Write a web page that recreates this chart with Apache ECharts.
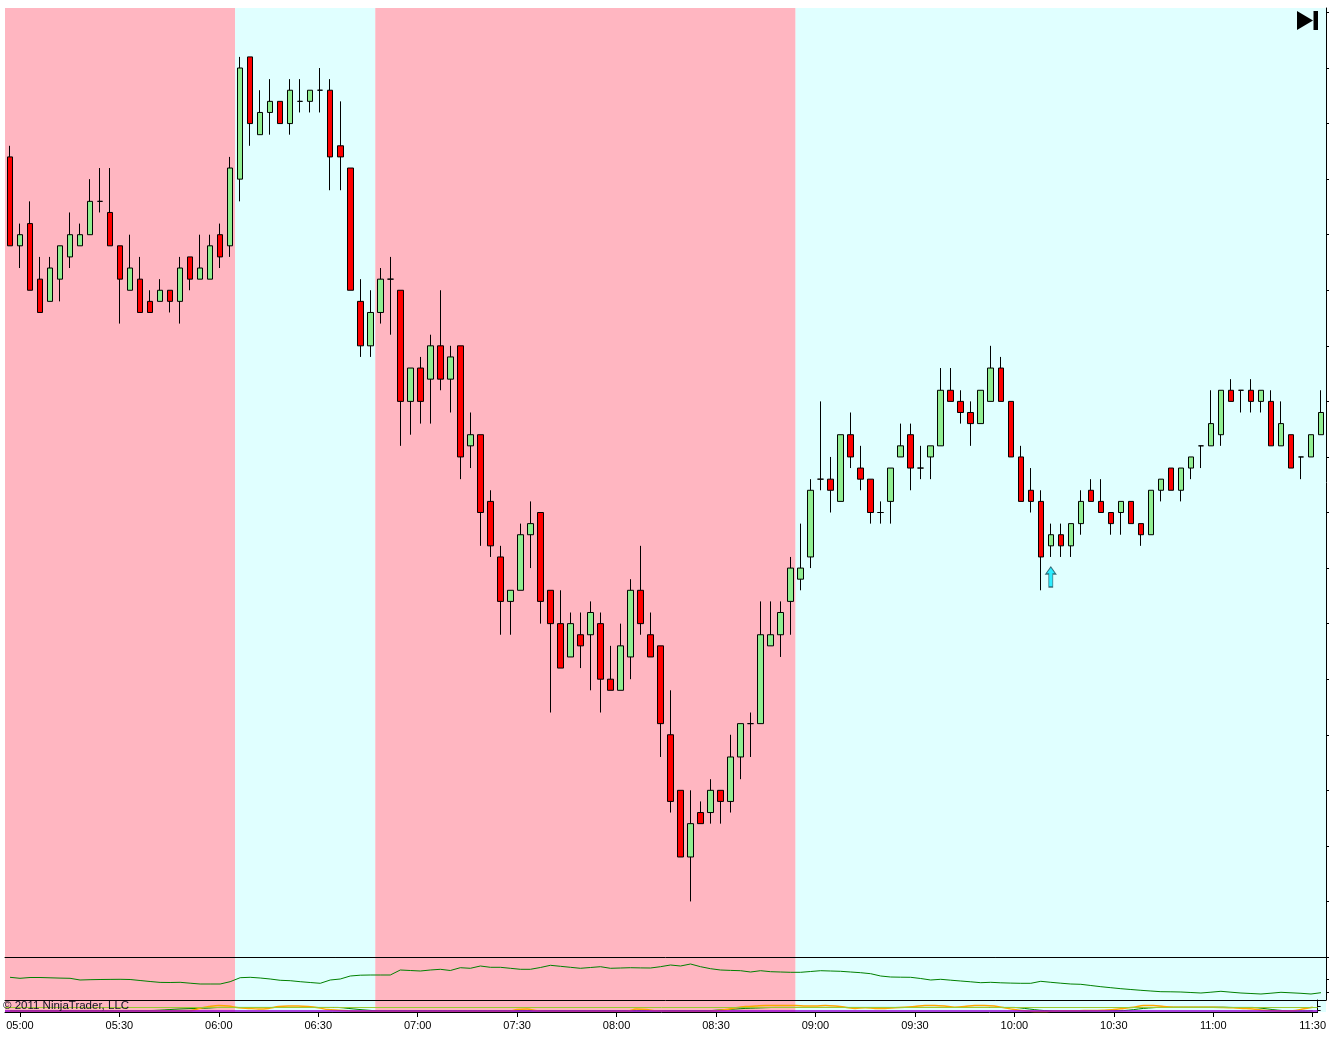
<!DOCTYPE html>
<html>
<head>
<meta charset="utf-8">
<script src="https://cdn.jsdelivr.net/npm/echarts@6/dist/echarts.min.js"></script>
<style>
html,body{margin:0;padding:0;background:#ffffff;}
#chart{width:1329px;height:1039px;}
</style>
</head>
<body>
<div id="chart"></div>
<script>
// ---------- DATA ----------
// 3-minute bars, 04:57 .. 11:30
const firstBarTime = '04:57';
const barMinutes = 3;
const barCount = 132;
const times = [];
(function () {
  const [h0, m0] = firstBarTime.split(':').map(Number);
  for (let i = 0; i < barCount; i++) {
    const t = h0 * 60 + m0 + i * barMinutes;
    const hh = String(Math.floor(t / 60)).padStart(2, '0');
    const mm = String(t % 60).padStart(2, '0');
    times.push(hh + ':' + mm);
  }
})();

const opens = [
1316.75,1314.75,1315.25,1314,1313.5,1314,1314.5,1314.75,1315,1315.75,
1315.5,1314.75,1313.75,1314,1313.5,1313.5,1313.75,1313.5,1314.5,1314,
1314,1315,1314.75,1316.25,1319,1317.25,1317.75,1318,1317.5,1318,
1318,1318.25,1318.25,1317,1316.5,1313.5,1312.5,1313.25,1314,1313.75,
1311.25,1312,1311.75,1312.5,1311.75,1312.5,1310.25,1310.5,1309,1307.75,
1306.75,1307,1308.25,1308.75,1307,1306.25,1305.5,1306,1306,1306.25,
1305,1304.75,1305.5,1307,1306,1305.75,1303.75,1302.5,1301,1302,
1302,1302.5,1302.25,1303.25,1304,1304,1305.75,1306,1306.75,1307.25,
1307.75,1309.5,1309.5,1309,1310.5,1309.75,1309.5,1308.75,1309,1310,
1310.5,1309.75,1310,1310.25,1311.5,1311.25,1311,1310.75,1311.25,1312,
1311.25,1310,1309.25,1309,1308,1308.25,1308,1308.5,1309.25,1309,
1308.75,1308.75,1309,1308.5,1308.25,1309.25,1309.75,1309.25,1309.75,1310.25,
1310.25,1310.5,1311.5,1311.5,1311.5,1311.25,1311.25,1310.25,1310.5,1310,
1310,1310.5
];
const highs = [
1317,1315.25,1315.75,1314.5,1314.5,1314.75,1315.5,1315.25,1316.25,1316.5,
1316.5,1314.75,1315,1314.5,1313.75,1314,1313.75,1314.5,1314.5,1315,
1315,1315.25,1316.75,1319,1319,1318.25,1318.5,1318,1318.5,1318.5,
1318.25,1318.75,1318.5,1318,1316.5,1314,1313.75,1314.25,1314.5,1313.75,
1312,1312.25,1312.75,1313.75,1312.5,1312.5,1311,1310.5,1309.25,1308,
1307,1308.5,1309,1308.75,1307,1307,1306.5,1306.5,1306.75,1306.5,
1305.75,1306.25,1307.25,1308,1306.5,1305.75,1304.75,1302.5,1302.5,1302.25,
1302.75,1302.5,1303.75,1304,1304.25,1306.75,1306.75,1306.75,1307.75,1308.5,
1309.5,1311.25,1310,1310.5,1311,1310.25,1309.5,1309,1309.75,1310.75,
1310.75,1310.25,1310.25,1312,1312,1311.5,1311.25,1311.5,1312.5,1312.25,
1311.25,1310.25,1309.75,1309.25,1308.5,1308.5,1308.5,1309.25,1309.5,1309.5,
1308.75,1309,1309,1308.5,1309.25,1309.5,1309.75,1309.75,1310,1310.25,
1311.5,1311.5,1311.75,1311.5,1311.75,1311.5,1311.5,1311.25,1310.5,1310,
1310.5,1311.5
];
const lows = [
1314.75,1314.25,1313.75,1313.25,1313.5,1313.5,1314.25,1314.75,1315,1315.5,
1314.75,1313,1313.75,1313.25,1313.25,1313.5,1313.25,1313,1313.75,1314,
1314,1314.25,1314.5,1315.75,1317,1317.25,1317.25,1317.5,1317.25,1317.75,
1317.75,1317.75,1316,1316,1313.75,1312.25,1312.25,1313,1312.75,1310.25,
1310.5,1310.75,1310.75,1311.5,1311,1309.5,1309.75,1308,1307.75,1306,
1306,1307,1307.5,1306.25,1304.25,1305.25,1305.5,1305.25,1304.75,1304.25,
1304.75,1304.75,1305,1306,1305.5,1303.25,1302,1301,1300,1301.75,
1301.75,1301.75,1302,1302.75,1303.25,1304,1305.75,1305.5,1306,1307,
1307.5,1309.25,1308.75,1309,1309.75,1309.25,1308.5,1308.5,1308.5,1310,
1309.25,1309.5,1309.5,1310.25,1311.25,1310.75,1310.25,1310.75,1311.25,1311.25,
1310,1309,1308.75,1307,1307.75,1307.75,1307.75,1308.25,1309,1308.75,
1308.25,1308.25,1308.5,1308,1308.25,1309,1309.25,1309,1309.5,1309.75,
1310.25,1310.25,1311.25,1311,1311,1311,1310.25,1310.25,1309.75,1309.5,
1310,1310.5
];
const closes = [
1314.75,1315,1313.75,1313.25,1314.25,1314.75,1315,1315,1315.75,1315.75,
1314.75,1314,1314.25,1313.25,1313.25,1313.75,1313.5,1314.25,1314,1314.25,
1314.75,1314.5,1316.5,1318.75,1317.5,1317.75,1318,1317.5,1318.25,1318,
1318.25,1318.25,1316.75,1316.75,1313.75,1312.5,1313.25,1314,1314,1311.25,
1312,1311.25,1312.5,1311.75,1312.25,1310,1310.5,1308.75,1308,1306.75,
1307,1308.25,1308.5,1306.75,1306.25,1305.25,1306.25,1305.75,1306.5,1305,
1304.75,1305.75,1307,1306.25,1305.5,1304,1302.25,1301,1301.75,1301.75,
1302.5,1302.25,1303.25,1304,1304,1306,1306,1306.5,1307.5,1307.5,
1309.25,1309.5,1309.25,1310.5,1310,1309.5,1308.75,1308.75,1309.75,1310.25,
1309.75,1309.75,1310.25,1311.5,1311.25,1311,1310.75,1311.5,1312,1311.25,
1310,1309,1309,1307.75,1308.25,1308,1308.5,1309,1309,1308.75,
1308.5,1309,1308.5,1308.25,1309.25,1309.5,1309.25,1309.75,1310,1310.25,
1310.75,1311.5,1311.25,1311.5,1311.25,1311.5,1310.25,1310.75,1309.75,1310,
1310.5,1311
];

// upper indicator panel (single green line)
const trendIndicator = [
22.7,21.7,22.5,22.5,22.2,21.9,21.7,20.0,20.3,20.5,
20.6,20.7,20.5,19.5,18.5,17.6,17.5,17.7,16.8,16.0,
16.0,16.0,18.3,22.3,22.7,22.0,21.0,19.7,19.3,18.3,
17.5,16.7,20.0,21.0,24.0,24.8,25.0,25.0,25.0,30.0,
29.5,29.0,30.0,30.7,29.5,32.3,31.7,34.0,32.7,32.7,
31.7,30.7,30.7,32.5,34.7,33.7,32.7,31.7,32.5,33.3,
31.7,32.0,32.3,32.1,32.0,33.3,35.0,34.0,36.0,33.3,
31.3,30.0,29.6,29.3,28.0,29.3,28.3,28.0,27.7,27.7,
28.5,29.3,29.0,28.7,28.0,27.3,26.3,24.0,23.0,22.8,
22.7,21.5,20.0,20.7,19.8,19.0,18.2,17.3,17.7,17.2,
16.9,16.7,16.7,18.7,17.7,16.8,16.0,15.7,14.5,13.3,
12.3,11.3,10.5,9.7,9.0,8.3,8.2,8.0,7.5,7.0,
7.8,8.7,7.8,7.0,6.5,6.0,6.8,7.7,7.2,6.7,
6.0,7.3
];

// lower (thin) oscillator panel
const oscGreen = [
0.12,0.12,0.12,0.12,0.12,0.12,0.12,0.12,0.12,0.12,0.12,0.12,0.12,0.12,0.12,
0.15,0.2,0.25,0.28,0.3,0.33,
0.38,0.38,0.38,0.38,0.38,0.38,0.38,0.38,0.38,0.38,0.38,0.38,0.38,
0.3,0.22,0.15,0.1,
0.1,0.1,0.1,0.1,0.1,0.1,0.1,0.1,0.1,0.1,0.1,0.1,0.1,0.1,0.1,0.1,0.1,0.1,0.1,0.1,0.1,0.1,0.1,0.1,0.1,0.1,0.1,0.1,0.1,0.1,0.1,0.1,0.1,
0.15,0.2,0.25,0.3,0.33,0.36,0.38,0.38,
0.38,0.38,0.38,0.38,0.38,0.38,0.38,0.38,0.38,0.38,0.38,0.38,0.38,0.38,0.38,0.38,0.38,0.38,0.38,0.38,0.38,0.38,0.38,
0.3,0.2,0.12,0.1,0.08,0.08,0.08,0.1,0.1,0.1,0.12,
0.2,0.3,0.36,0.4,0.4,0.4,0.4,0.4,0.4,0.4,0.38,0.38,0.38,0.3,
0.2,0.12,0.08,0.08,0.1
];
const oscOrange = [
0.08,0.08,0.08,0.08,0.08,0.08,0.08,0.08,0.08,0.08,0.08,0.08,0.08,0.08,0.08,0.08,0.08,0.08,0.08,
0.3,0.45,0.55,0.5,0.35,
0.3,0.25,0.3,
0.45,0.5,0.5,0.45,0.35,
0.2,0.15,0.1,0.06,0.06,0.06,0.06,0.06,0.06,0.06,0.06,0.06,0.06,0.06,0.06,0.06,0.06,0.06,0.06,
0.2,0.25,
0.1,0.06,0.06,0.06,0.06,0.06,0.06,0.06,0.06,0.06,
0.25,0.2,
0.1,0.06,0.06,0.06,0.06,0.06,0.1,0.2,0.35,
0.45,0.5,0.55,0.55,0.55,0.55,0.5,0.5,0.55,0.5,0.4,
0.3,0.35,0.3,0.3,0.35,0.4,0.45,
0.55,0.55,0.5,
0.4,0.45,0.55,0.55,0.5,
0.35,0.2,0.1,0.05,0.05,
0.08,0.1,0.1,0.12,0.12,0.15,0.2,0.3,0.4,
0.55,0.55,0.45,
0.4,0.4,0.4,0.4,0.4,0.38,0.35,0.3,0.25,
0.15,0.1,0.08,0.1,0.25,0.4
];
const oscUpperLevel = 0.38;
const oscLowerLevel = 0.12;

// background regimes (bar index ranges)
const regionStart = [0, 23, 37, 79];
const regionEnd   = [22, 36, 78, 131];
const regionType  = ['short', 'long', 'short', 'long'];

// signal arrow bars
const signalBars = [104];

// axis tick levels (no labels shown)
const priceTicks = [1298.75,1300,1301.25,1302.5,1303.75,1305,1306.25,1307.5,1308.75,1310,1311.25,1312.5,1313.75,1315,1316.25,1317.5,1318.75,1320];
const trendTicks = [8, 21];
const oscTicks = [0.44, 0.11];

// ---------- CHART ----------
const FONT = '"Liberation Sans", Arial, sans-serif';
const regionColors = { short: '#FFB6C1', long: '#E0FFFF' };
const chart = echarts.init(document.getElementById('chart'), null, { renderer: 'canvas' });

const candleData = opens.map((o, i) => [o, closes[i], lows[i], highs[i]]);
const isLabelTime = (v) => v.endsWith(':00') || v.endsWith(':30');

const L = 5, R = 3;
const hiddenX = (grid) => ({
  type: 'category', gridIndex: grid, data: times, boundaryGap: true,
  axisLine: { show: true, onZero: false, lineStyle: { color: '#000', width: 1 } },
  axisTick: { show: false }, axisLabel: { show: false }, splitLine: { show: false }
});
const rightY = (grid, min, max, ticks) => ({
  type: 'value', gridIndex: grid, position: 'right', min: min, max: max, scale: true,
  axisLine: { show: true, lineStyle: { color: '#000', width: 1 } },
  axisTick: { show: true, length: 3, customValues: ticks, lineStyle: { color: '#000' } },
  axisLabel: { show: false }, splitLine: { show: false }
});

const option = {
  animation: false,
  backgroundColor: '#ffffff',
  grid: [
    { left: L, right: R, top: 8, bottom: 27, containLabel: false },
    { left: L, right: R, top: 8, height: 949, containLabel: false },
    { left: L, right: R, top: 957, height: 43, containLabel: false },
    { left: L, right: R, top: 1000, height: 12, containLabel: false }
  ],
  xAxis: [
    { type: 'category', gridIndex: 0, data: times, show: false },
    hiddenX(1),
    hiddenX(2),
    {
      type: 'category', gridIndex: 3, data: times, boundaryGap: true,
      axisLine: { show: true, onZero: false, lineStyle: { color: '#000', width: 1 } },
      axisTick: { show: true, alignWithLabel: true, length: 5, interval: (i, v) => isLabelTime(v), lineStyle: { color: '#000' } },
      axisLabel: { show: true, interval: (i, v) => isLabelTime(v), color: '#000', fontSize: 11, fontFamily: FONT, margin: 8,
                   alignMinLabel: 'center', alignMaxLabel: 'center', hideOverlap: false },
      splitLine: { show: false }
    }
  ],
  yAxis: [
    { type: 'value', gridIndex: 0, min: 0, max: 1, show: false },
    rightY(1, 1298.75, 1320.1, priceTicks),
    rightY(2, 0, 43, trendTicks),
    rightY(3, 0, 1, oscTicks)
  ],
  graphic: [
    { type: 'text', left: 3, top: 1000, z: 100, silent: true,
      style: { text: '© 2011 NinjaTrader, LLC', fill: '#101020', font: '11.5px ' + FONT } },
    { type: 'polygon', z: 100, silent: true,
      shape: { points: [[1297, 11], [1313, 20.5], [1297, 30]] }, style: { fill: '#000' } },
    { type: 'rect', z: 100, silent: true,
      shape: { x: 1313.5, y: 11, width: 4.5, height: 19 }, style: { fill: '#000' } }
  ],
  series: [
    {
      type: 'custom', xAxisIndex: 0, yAxisIndex: 0, z: 0, silent: true,
      data: regionStart.map((s, i) => [s, regionEnd[i]]),
      encode: { x: [0, 1] },
      renderItem: (params, api) => {
        const s = api.value(0), e = api.value(1);
        const bw = api.size([1, 0])[0];
        const p0 = api.coord([s, 0]), p1 = api.coord([e, 0]);
        const cs = params.coordSys;
        return {
          type: 'rect',
          shape: { x: p0[0] - bw / 2, y: cs.y, width: p1[0] - p0[0] + bw, height: cs.height },
          style: { fill: regionColors[regionType[params.dataIndex]] }
        };
      }
    },
    {
      type: 'candlestick', xAxisIndex: 1, yAxisIndex: 1, z: 3,
      data: candleData, barWidth: 6,
      itemStyle: {
        color: '#90EE90', color0: '#FF0000',
        borderColor: '#000000', borderColor0: '#000000', borderColorDoji: '#000000',
        borderWidth: 1
      }
    },
    {
      type: 'scatter', xAxisIndex: 1, yAxisIndex: 1, z: 4, silent: true,
      data: signalBars.map(i => [i, lows[i]]),
      symbol: 'path://M5,0 L10,7 L7,7 L7,20 L3,20 L3,7 L0,7 Z',
      symbolSize: [10, 20], symbolOffset: [0, 20], symbolKeepAspect: false,
      itemStyle: { color: '#00E8FF', borderColor: '#1d4f5c', borderWidth: 1 }
    },
    {
      type: 'line', xAxisIndex: 2, yAxisIndex: 2, z: 3,
      data: trendIndicator, symbol: 'none', showSymbol: false,
      lineStyle: { color: '#008000', width: 1 }
    },
    {
      type: 'line', xAxisIndex: 3, yAxisIndex: 3, z: 3,
      data: oscGreen, symbol: 'none', showSymbol: false, smooth: 0.3,
      lineStyle: { color: '#008000', width: 1 }
    },
    {
      type: 'line', xAxisIndex: 3, yAxisIndex: 3, z: 3,
      data: oscOrange, symbol: 'none', showSymbol: false, smooth: 0.3,
      lineStyle: { color: '#FFA500', width: 1.5 },
      markLine: {
        silent: true, symbol: 'none', label: { show: false },
        data: [
          { yAxis: oscUpperLevel, lineStyle: { color: '#9ACD32', width: 1, type: 'solid' } },
          { yAxis: oscLowerLevel, lineStyle: { color: '#9400D3', width: 1.5, type: 'solid' } }
        ]
      }
    }
  ]
};
chart.setOption(option);
</script>
</body>
</html>
